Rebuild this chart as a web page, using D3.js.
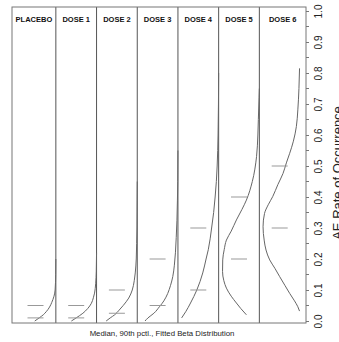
<!DOCTYPE html>
<html><head><meta charset="utf-8">
<script src="https://cdn.jsdelivr.net/npm/d3@7"></script>
<style>html,body{margin:0;padding:0;background:#fff;}svg{display:block;}</style>
</head><body>
<script>
// ---- data ----
const categories = ["PLACEBO","DOSE 1","DOSE 2","DOSE 3","DOSE 4","DOSE 5","DOSE 6"];
const medians = [0.01, 0.01, 0.025, 0.05, 0.10, 0.20, 0.30];
const pct90   = [0.05, 0.05, 0.10, 0.20, 0.30, 0.40, 0.50];
const yTicks = [0,0.1,0.2,0.3,0.4,0.5,0.6,0.7,0.8,0.9,1.0];
// fitted beta densities (rate, relative density)
const densPlacebo = [[0,0.57],[0.01,0.45],[0.02,0.34],[0.03,0.26],[0.045,0.17],[0.06,0.11],[0.08,0.05],[0.1,0.02],[0.15,0.004],[0.2,0]];
const densDose1 = [[0,0.68],[0.01,0.55],[0.025,0.37],[0.04,0.24],[0.057,0.14],[0.075,0.086],[0.09,0.054],[0.12,0.024],[0.16,0.008],[0.22,0]];
const densDose2 = [[0,0.84],[0.01,0.73],[0.02,0.61],[0.035,0.49],[0.05,0.38],[0.074,0.23],[0.1,0.135],[0.13,0.081],[0.155,0.054],[0.2,0.027],[0.25,0.016],[0.3,0.008],[0.39,0.003],[0.45,0]];
const densDose3 = [[0,0.89],[0.01,0.81],[0.025,0.65],[0.046,0.5],[0.065,0.38],[0.089,0.276],[0.115,0.2],[0.143,0.14],[0.18,0.097],[0.22,0.068],[0.27,0.046],[0.325,0.027],[0.39,0.014],[0.45,0.005],[0.55,0]];
const densDose4 = [[0.01,1.0],[0.03,0.89],[0.058,0.76],[0.1,0.59],[0.155,0.43],[0.2,0.34],[0.23,0.28],[0.3,0.19],[0.35,0.135],[0.4,0.095],[0.45,0.062],[0.5,0.04],[0.6,0.016],[0.7,0.005],[0.8,0]];
const densDose5 = [[0.02,0.35],[0.04,0.5],[0.058,0.62],[0.08,0.76],[0.106,0.89],[0.13,0.96],[0.16,0.995],[0.197,0.99],[0.23,0.95],[0.261,0.89],[0.29,0.76],[0.326,0.62],[0.36,0.47],[0.39,0.35],[0.45,0.19],[0.53,0.076],[0.6,0.04],[0.65,0.027],[0.72,0.008],[0.75,0]];
const densDose6 = [[0.032,0.014],[0.046,0.06],[0.065,0.15],[0.089,0.28],[0.115,0.41],[0.143,0.55],[0.17,0.68],[0.197,0.82],[0.229,0.92],[0.261,0.97],[0.304,1.0],[0.347,0.96],[0.375,0.86],[0.401,0.74],[0.44,0.6],[0.476,0.46],[0.51,0.37],[0.541,0.28],[0.58,0.18],[0.627,0.10],[0.681,0.06],[0.75,0.03],[0.815,0.014]];
const densities = [densPlacebo, densDose1, densDose2, densDose3, densDose4, densDose5, densDose6];

// ---- layout ----
const W = 339, H = 342;
const frame = {left: 12, right: 306, top: 7, bottom: 323};
const x = d3.scaleLinear().domain([-0.5, 6.5]).range([15.15, 300.05]);
const y = d3.scaleLinear().domain([0, 1]).range([321, 11]);
const dw = d3.scaleLinear().domain([0, 1]).range([0, 37]);

const svg = d3.select("body").append("svg").attr("width", W).attr("height", H)
  .style("font-family", "'Liberation Sans', Arial, Helvetica, sans-serif");

// panel separators
const seps = d3.range(categories.length - 1).map(i => x(i + 0.5));
svg.selectAll("line.sep").data(seps).enter().append("line")
  .attr("x1", d => d).attr("x2", d => d)
  .attr("y1", frame.top).attr("y2", frame.bottom)
  .attr("stroke", "#555").attr("stroke-width", 1);

// density curves
const line = d3.line().curve(d3.curveMonotoneY);
densities.forEach((dens, i) => {
  const base = x(i + 0.5);
  svg.append("path")
    .attr("d", line(dens.map(p => [base - dw(p[1]), y(p[0])])))
    .attr("fill", "none").attr("stroke", "#666").attr("stroke-width", 1);
});

// median / 90th percentile marks
[medians, pct90].forEach(arr => {
  svg.selectAll(null).data(arr).enter().append("line")
    .attr("x1", (d, i) => x(i) - 8).attr("x2", (d, i) => x(i) + 8)
    .attr("y1", d => y(d)).attr("y2", d => y(d))
    .attr("stroke", "#999").attr("stroke-width", 1);
});

// frame
svg.append("rect").attr("x", frame.left).attr("y", frame.top)
  .attr("width", frame.right - frame.left).attr("height", frame.bottom - frame.top)
  .attr("fill", "none").attr("stroke", "#777").attr("stroke-width", 1);

// panel labels
const edges = [frame.left, ...seps, frame.right];
svg.selectAll("text.cat").data(categories).enter().append("text")
  .attr("x", (d, i) => (edges[i] + edges[i + 1]) / 2).attr("y", 22)
  .attr("text-anchor", "middle").attr("font-size", 7.5).attr("font-weight", "bold")
  .attr("fill", "#111").text(d => d);

// right y axis
const axis = d3.axisRight(y).tickValues(yTicks).tickSize(3).tickFormat(d3.format(".1f"));
const ag = svg.append("g").attr("transform", `translate(${frame.right},0)`).call(axis);
ag.select(".domain").remove();
ag.selectAll(".tick line").attr("stroke", "#777");
ag.selectAll(".tick text")
  .attr("x", 0).attr("dy", null).attr("y", 0)
  .attr("text-anchor", "middle")
  .attr("transform", "translate(15.5,0) rotate(-90)")
  .attr("font-size", 10).attr("font-family", "'Liberation Sans', Arial, sans-serif")
  .attr("fill", "#222");
const minorTicks = d3.range(0.05, 1, 0.1);
svg.selectAll("line.minor").data(minorTicks).enter().append("line")
  .attr("x1", frame.right).attr("x2", frame.right + 3)
  .attr("y1", d => y(d)).attr("y2", d => y(d)).attr("stroke", "#777");

// axis titles
svg.append("text").attr("transform", `translate(341.5,173) rotate(-90)`)
  .attr("text-anchor", "middle").attr("font-size", 13).attr("fill", "#222")
  .text("AE Rate of Occurrence");
svg.append("text").attr("x", 162).attr("y", 336).attr("text-anchor", "middle")
  .attr("font-size", 7.8).attr("fill", "#222")
  .text("Median, 90th pctl., Fitted Beta Distribution");
</script>
</body></html>
